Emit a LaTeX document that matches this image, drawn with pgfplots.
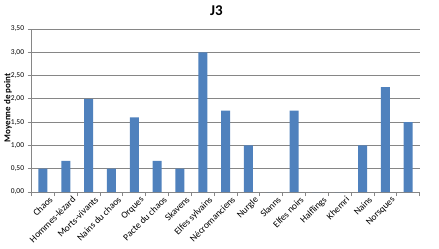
\documentclass[border=0pt]{standalone}
\usepackage{pgfplots}
\pgfplotsset{compat=1.18}
\usepackage{fontspec}
\setmainfont{Carlito}
\definecolor{barblue}{HTML}{4F81BD}
\definecolor{gridgray}{HTML}{868686}
\begin{document}
\begin{tikzpicture}
\begin{axis}[
  scale only axis,
  width=388bp, height=163bp,
  at={(0,0)}, anchor=origin,
  xmin=-0.5, xmax=16.5,
  ymin=0, ymax=3.5,
  ytick={0,0.5,...,3.5},
  xtick={-0.5,0.5,...,16.5},
  xticklabels={},
  extra x ticks={0,...,16},
  extra x tick labels={Chaos,Hommes-lézard,Morts-vivants,Nains du chaos,Orques,Pacte du chaos,Skavens,Elfes sylvains,Nécromanciens,Nurgle,Slanns,Elfes noirs,Halflings,Khemri,Nains,Norsques,{}},
  extra x tick style={major tick length=0pt, xticklabel style={font=\fontsize{9.5}{11}\selectfont, rotate=45, anchor=north east, inner sep=0.5bp, yshift=-6bp, xshift=2bp}},
  axis x line*=bottom, axis y line*=left,
  axis line style={gridgray, line width=0.8pt},
  ymajorgrids, grid style={gridgray, line width=0.8pt},
  tick align=outside,
  major tick style={gridgray, line width=0.8pt},
  major tick length=4bp,
  yticklabel style={font=\fontsize{7.5}{9}\selectfont, /pgf/number format/.cd, fixed, fixed zerofill, precision=2, use comma},
  /pgf/number format/assume math mode=true,
  enlargelimits=false,
  clip=false,
]
\addplot[ybar, bar width=9bp, fill=barblue, draw=none] coordinates {
(0,0.5) (1,0.667) (2,2.0) (3,0.5) (4,1.6) (5,0.667) (6,0.5) (7,3.0) (8,1.75) (9,1.0) (10,0) (11,1.75) (12,0) (13,0) (14,1.0) (15,2.25) (16,1.5)
};
\end{axis}
\node[rotate=90, font=\bfseries\fontsize{9}{11}\selectfont] at (-35bp,84bp) {Moyenne de point};
\node[font=\bfseries\fontsize{15}{18}\selectfont] at (173.5bp,181bp) {J3};
\pgfresetboundingbox
\path (-43bp,-57bp) rectangle (396bp,192bp);
\end{tikzpicture}
\end{document}
